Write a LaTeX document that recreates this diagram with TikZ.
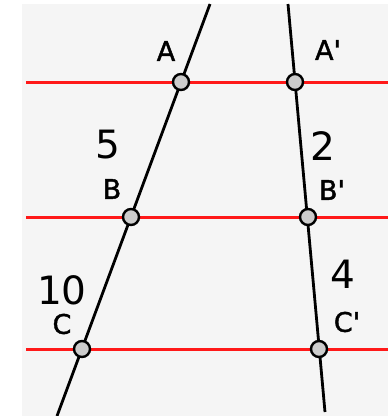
\documentclass[tikz,border=0pt]{standalone}
\usepackage{fontspec}
\setmainfont{DejaVu Sans}
\newfontfamily\lblfont[FakeBold=1.5]{DejaVu Sans}
\begin{document}
\begin{tikzpicture}[x=1pt,y=-1pt,
  redline/.style={draw=red!90!white, line width=3pt},
  blackline/.style={draw=black, line width=2.8pt},
  pt/.style={circle, draw=black, fill=black!20, line width=2.4pt, minimum size=16pt, inner sep=0pt},
  letter/.style={font=\lblfont\fontsize{27}{27}\selectfont, inner sep=0pt},
  num/.style={font=\fontsize{39}{39}\selectfont, inner sep=0pt}]
\useasboundingbox (0,0) rectangle (388,416);
\fill[white] (0,0) rectangle (388,416);
\fill[black!4] (22,4) rectangle (388,416);
% parallel red lines
\coordinate (l1) at (26,82);  \coordinate (r1) at (388,82);
\coordinate (l2) at (26,217); \coordinate (r2) at (388,217);
\coordinate (l3) at (26,349); \coordinate (r3) at (388,349);
\draw[redline] (l1) -- (r1);
\draw[redline] (l2) -- (r2);
\draw[redline] (l3) -- (r3);
% transversals
\coordinate (t1) at (210,4);  \coordinate (b1) at (57,416);
\coordinate (t2) at (288,4);  \coordinate (b2) at (325,412);
\draw[blackline] (t1) -- (b1);
\draw[blackline] (t2) -- (b2);
% points
\node[pt] (A) at (181,82) {};
\node[pt] (B) at (131,217) {};
\node[pt] (C) at (82,349) {};
\node[pt] (A2) at (295,82) {};
\node[pt] (B2) at (308,217) {};
\node[pt] (C2) at (319,349) {};
% labels
\node[letter] (lA) at (166,51) {A};
\node[letter] (lA2) at (328,50) {A\textquotesingle};
\node[letter] (lB) at (112,189) {B};
\node[letter] (lB2) at (332,190) {B\textquotesingle};
\node[letter] (lC) at (62,324) {C};
\node[letter] (lC2) at (347,322) {C\textquotesingle};
\node[num] (n5) at (108,145) {5};
\node[num] (n2) at (323,146) {2};
\node[num] (n10) at (62,290) {10};
\node[num] (n4) at (343,274) {4};
\end{tikzpicture}
\end{document}
